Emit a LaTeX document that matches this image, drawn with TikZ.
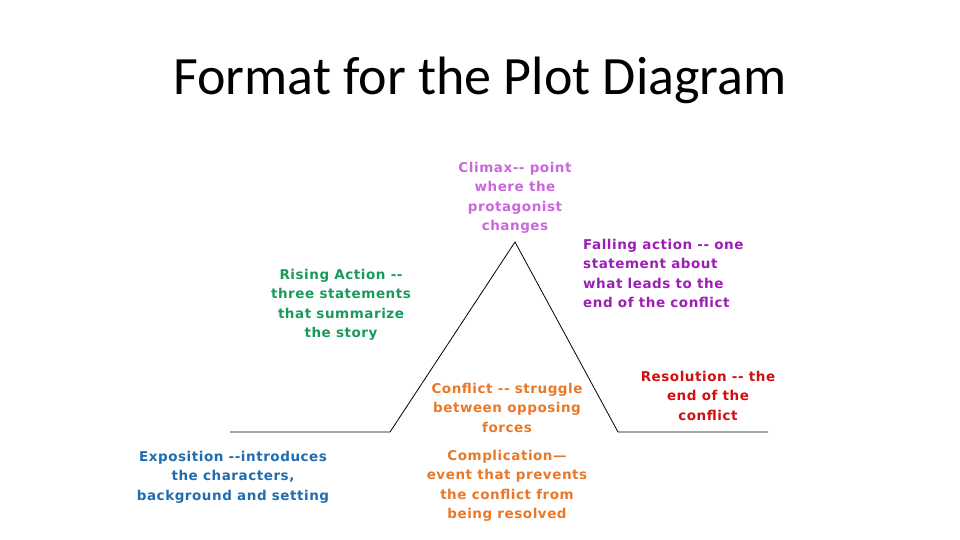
\documentclass[tikz,border=0pt]{standalone}
\usepackage{fontspec}
\setmainfont{DejaVu Sans}[LetterSpace=4]
\newfontfamily\titlefont{Carlito}
\usepackage{tikz}
\definecolor{climaxc}{HTML}{CC66DD}
\definecolor{risec}{HTML}{1A9A5A}
\definecolor{fallc}{HTML}{9B1FB5}
\definecolor{conflc}{HTML}{E8782A}
\definecolor{resolc}{HTML}{D01010}
\definecolor{expoc}{HTML}{1F6DB0}
\tikzset{
  lab/.style={font=\fontsize{13.5}{19.3}\selectfont\bfseries, align=center, inner sep=0pt, anchor=north},
  plotline/.style={draw=black, line width=0.8pt}
}
\begin{document}
\begin{tikzpicture}[x=1pt,y=-1pt]
  \useasboundingbox (0,0) rectangle (960,540);

  \node[font=\titlefont\fontsize{54}{56}\selectfont] (title) at (480,80) {Format for the Plot Diagram};

  % plot line
  \coordinate (start) at (230,432);
  \coordinate (rise) at (390,432);
  \coordinate (peak) at (515,242);
  \coordinate (fall) at (618,432);
  \coordinate (finish) at (768,432);
  \draw[plotline] (start) -- (rise) -- (peak) -- (fall) -- (finish);

  % labels
  \node[lab, text=climaxc] (climax) at (515,162) {Climax{-}{-} point\\where the\\protagonist\\changes};
  \node[lab, text=risec] (rising) at (341,269) {Rising Action {-}{-}\\three statements\\that summarize\\the story};
  \node[lab, text=fallc, align=left, anchor=north west] (falling) at (583,239) {Falling action {-}{-} one\\statement about\\what leads to the\\end of the conflict};
  \node[lab, text=conflc] (conflict) at (507,383) {Conflict {-}{-} struggle\\between opposing\\forces};
  \node[lab, text=resolc] (resolution) at (708,371) {Resolution {-}{-} the\\end of the\\conflict};
  \node[lab, text=expoc] (exposition) at (233,451) {Exposition {-}{-}introduces\\the characters,\\background and setting};
  \node[lab, text=conflc] (complication) at (507,450) {Complication—\\event that prevents\\the conflict from\\being resolved};
\end{tikzpicture}
\end{document}
